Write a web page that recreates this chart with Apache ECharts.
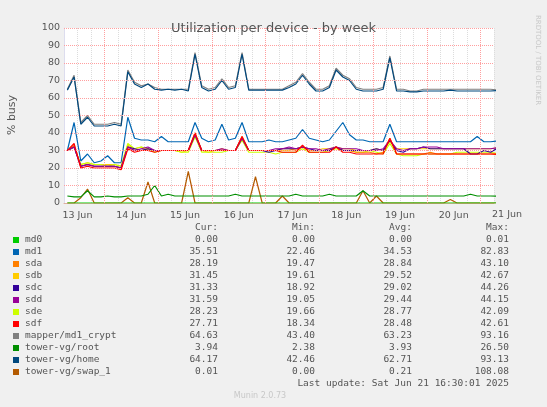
<!DOCTYPE html>
<html>
<head>
	<title>Utilization per device</title>
	<script src="https://cdn.jsdelivr.net/npm/echarts@6/dist/echarts.min.js"></script>
	<style>body{margin:0;background:#f0f0f0}</style>
</head>
<body>
	<div id="main" style="width:547px;height:407px;"></div>
	<script type="text/javascript">
	// hours since 13 Jun 00:00, one sample every 3h
	var hours = [];
	for (var i = 0; i < 65; i++) hours.push(7.5 + 3 * i);

	var dayLabels = ['13 Jun', '14 Jun', '15 Jun', '16 Jun', '17 Jun', '18 Jun', '19 Jun', '20 Jun', '21 Jun'];
	var names = ['md0', 'md1', 'sda', 'sdb', 'sdc', 'sdd', 'sde', 'sdf', 'mapper/md1_crypt', 'tower-vg/root', 'tower-vg/home', 'tower-vg/swap_1'];
	var colors = ['#00cc00', '#0066b3', '#ff8000', '#ffcc00', '#330099', '#990099', '#ccff00', '#ff0000', '#808080', '#008f00', '#00487d', '#b35a00'];
	var cur = ['0.00', '35.51', '28.19', '31.45', '31.33', '31.59', '28.23', '27.71', '64.63', '3.94', '64.17', '0.01'];
	var mins = ['0.00', '22.46', '19.47', '19.61', '18.92', '19.05', '19.66', '18.34', '43.40', '2.38', '42.46', '0.00'];
	var avgs = ['0.00', '34.53', '28.84', '29.52', '29.02', '29.44', '28.77', '28.48', '63.23', '3.93', '62.71', '0.21'];
	var maxs = ['0.01', '82.83', '43.10', '42.67', '44.26', '44.15', '42.09', '42.61', '93.16', '26.50', '93.13', '108.08'];

	var md0 = [0,0, 0,0,0,0,0,0,0,0, 0,0,0,0,0,0,0,0, 0,0,0,0,0,0,0,0, 0,0,0,0,0,0,0,0, 0,0,0,0,0,0,0,0, 0,0,0,0,0,0,0,0, 0,0,0,0,0,0,0,0, 0,0,0,0,0,0,0];
	var md1 = [30,46, 24,28,23,24,27,23,23,49, 37,36,36,35,38,35,35,35, 35,46,37,35,36,45,36,37, 46,35,35,35,36,35,35,36, 37,42,37,36,35,36,41,46, 39,36,36,35,35,35,45,35, 35,35,35,35,35,35,35,35, 35,35,35,38,35,35,35.5];
	var sda = [30,33, 21,22,21,21,21,21,20,32, 30,30,31,30,30,30,30,30, 30,40,30,30,30,31,30,30, 38,30,30,30,30,30,31,31, 30,32,30,30,30,30,32,30, 30,29,29,29,28,29,37,28, 28,28,28,28,29,28,28,28, 28,28,28,28,28,28,28.2];
	var sdb = [30,32, 22,23,22,22,22,22,21,33, 31,32,30,30,30,30,30,29, 30,38,30,29,30,30,30,30, 36,30,30,30,30,30,30,30, 31,32,30,30,31,31,32,31, 31,30,30,30,31,30,35,31, 31,31,31,31,31,31,31,31, 31,31,31,31,31,31,31.5];
	var sdc = [30,32, 21,22,21,21,21,21,20,32, 31,30,31,30,30,30,30,30, 30,39,30,30,30,30,30,30, 37,30,30,30,29,30,31,31, 31,32,31,30,30,30,32,30, 30,30,30,30,31,30,36,30, 29,31,31,32,31,31,31,31, 31,31,28,28,30,29,31.3];
	var sdd = [30,32, 21,22,21,21,21,21,20,32, 30,31,32,30,30,30,30,30, 30,39,30,30,30,31,30,30, 37,30,30,30,30,31,31,32, 31,32,31,31,30,31,32,31, 31,31,30,30,30,31,36,31, 30,31,31,32,32,32,31,31, 31,31,31,31,31,31,31.6];
	var sde = [30,32, 22,23,22,22,21,22,21,34, 31,32,31,29,30,30,30,29, 29,38,29,29,29,29,30,30, 36,29,29,29,29,28,29,29, 29,31,29,29,29,30,31,30, 30,29,29,30,29,28,34,28, 27,27,27,28,28,28,28,28, 29,29,29,29,29,29,28.2];
	var sdf = [30,34, 20,21,20,20,20,20,19,31, 29,30,30,29,30,30,30,30, 30,40,30,30,30,30,30,30, 38,30,30,30,30,30,29,29, 29,33,29,29,29,29,32,29, 29,28,28,28,28,28,37,28, 28,28,28,28,28,28,28,28, 28,28,28,28,28,28,27.7];
	var crypt = [65,73, 46,50,45,45,45,46,45,76, 69,67,68,66,65,65,65,65, 65,86,67,65,66,71,66,67, 86,65,65,65,65,65,65,67, 69,74,69,65,65,67,77,73, 71,66,65,65,65,66,84,65, 65,64,64,65,65,65,65,65, 65,65,65,65,65,65,64.6];
	var root = [4,3.5, 3.5,7,3.5,3.5,4,3.5,3.5,4, 4,4,5,10,4,5,4,4, 4,4,4,4,4,4,4,5, 4,4,4,4,4,4,4,4, 5,4,4,4,4,5,4,4, 4,4,7,4,4,4,4,4, 4,4,4,4,4,4,4,4, 4,4,5,4,4,4,3.9];
	var home = [64.5,72, 45,49,44,44,44,45,44,75, 68,66,68,65,64.5,65,64.5,65, 64,85,66,64,65,70,65,66, 85,64.5,64.5,64.5,64.5,64.5,64.5,66, 68,73,68,64,64,66,76,72, 70,65,64,64,64,65,83,64, 64,63.5,63.5,64,64,64,64,64.5, 64,64,64,64,64,64,64.2];
	var swap = [0,0, 3,8,0,0,0,0,0,3, 0,0,12,0,0,0,0,0, 18,0,0,0,0,0,0,0, 0,0,15,0,0,0,4,0, 0,0,0,0,0,0,0,0, 0,0,7,0,4,0,0,0, 0,0,0,0,0,0,0,2, 0,0,0,0,0,0,0];

	var values = [md0, md1, sda, sdb, sdc, sdd, sde, sdf, crypt, root, home, swap];
	var drawOrder = [11, 9, 8, 10, 1, 3, 6, 2, 4, 5, 7, 0];

	var myChart = echarts.init(document.getElementById('main'));
	var mono = 'DejaVu Sans Mono';
	var txtColor = '#555';

	var series = [];
	drawOrder.forEach(function(k) {
		series.push({
			name: names[k],
			type: 'line',
			showSymbol: false,
			animation: false,
			lineStyle: { color: colors[k], width: 1.2 },
			data: hours.map(function(h, i) { return [h, values[k][i]]; })
		});
	});
	// red grid lines: day boundaries and every 10%
	series.push({
		type: 'line', data: [], silent: true,
		markLine: {
			symbol: 'none', silent: true, label: { show: false }, animation: false,
			lineStyle: { color: '#ff9f9f', type: 'dotted', width: 1 },
			data: [24, 48, 72, 96, 120, 144, 168, 192].map(function(v) { return { xAxis: v }; })
				.concat([10, 20, 30, 40, 50, 60, 70, 80, 90, 100].map(function(v) { return { yAxis: v }; }))
		}
	});

	var gfx = [];
	function t(x, y, s, opt) {
		var st = { text: s, fill: txtColor, font: '9.5px ' + mono, textAlign: 'left', textVerticalAlign: 'middle' };
		for (var k in opt) st[k] = opt[k];
		gfx.push({ type: 'text', x: x, y: y, style: st });
	}
	var colX = [218, 315, 412, 509];
	['Cur:', 'Min:', 'Avg:', 'Max:'].forEach(function(h, j) { t(colX[j], 228, h, { textAlign: 'right' }); });
	names.forEach(function(n, k) {
		var y = 240 + k * 12;
		gfx.push({ type: 'rect', shape: { x: 13, y: y - 3, width: 6, height: 6 }, style: { fill: colors[k] } });
		t(25, y, n);
		t(colX[0], y, cur[k], { textAlign: 'right' });
		t(colX[1], y, mins[k], { textAlign: 'right' });
		t(colX[2], y, avgs[k], { textAlign: 'right' });
		t(colX[3], y, maxs[k], { textAlign: 'right' });
	});
	t(509, 384, 'Last update: Sat Jun 21 16:30:01 2025', { textAlign: 'right' });
	t(260, 396, 'Munin 2.0.73', { textAlign: 'center', fill: '#c8c8c8', font: '8px DejaVu Sans' });
	// labels the axis drops at its ends
	t(507, 214.5, dayLabels[8], { textAlign: 'center', font: '9.5px DejaVu Sans' });
	t(60, 203, '0', { textAlign: 'right', font: '9.5px DejaVu Sans' });
	t(60, 28, '100', { textAlign: 'right', font: '9.5px DejaVu Sans' });
	gfx.push({ type: 'text', x: 12, y: 115, rotation: Math.PI / 2,
		style: { text: '% busy', fill: txtColor, font: '11px DejaVu Sans', textAlign: 'center', textVerticalAlign: 'middle' } });
	gfx.push({ type: 'text', x: 538, y: 60, rotation: -Math.PI / 2,
		style: { text: 'RRDTOOL / TOBI OETIKER', fill: '#c8c8c8', font: '7px DejaVu Sans', textAlign: 'center', textVerticalAlign: 'middle' } });

	option = {
		backgroundColor: '#f0f0f0',
		title: {
			text: 'Utilization per device - by week', left: 'center', top: 11,
			textStyle: { color: '#555', fontFamily: 'DejaVu Sans', fontSize: 13, fontWeight: 'normal' }
		},
		grid: { left: 64, right: 53, top: 28, bottom: 204, show: true, backgroundColor: '#fff', borderWidth: 0 },
		xAxis: {
			type: 'value', min: 6, max: 198, interval: 6,
			axisLine: { lineStyle: { color: '#e0b0a0' } },
			axisTick: { show: false },
			axisLabel: {
				color: txtColor, fontFamily: 'DejaVu Sans', fontSize: 9.5, hideOverlap: false, margin: 3,
				formatter: function(v) { return v % 24 === 12 ? dayLabels[(v - 12) / 24] : ''; }
			},
			splitLine: { show: true, lineStyle: { color: '#dcdcdc', type: 'dotted' } }
		},
		yAxis: {
			type: 'value', min: 0, max: 100, interval: 10,
			axisLine: { show: true, lineStyle: { color: '#dde' } },
			axisTick: { show: false },
			axisLabel: { color: txtColor, fontFamily: 'DejaVu Sans', fontSize: 9.5, hideOverlap: false, margin: 4 },
			splitLine: { show: false }
		},
		graphic: gfx,
		series: series
	};
	myChart.setOption(option);
	</script>
</body>
</html>
